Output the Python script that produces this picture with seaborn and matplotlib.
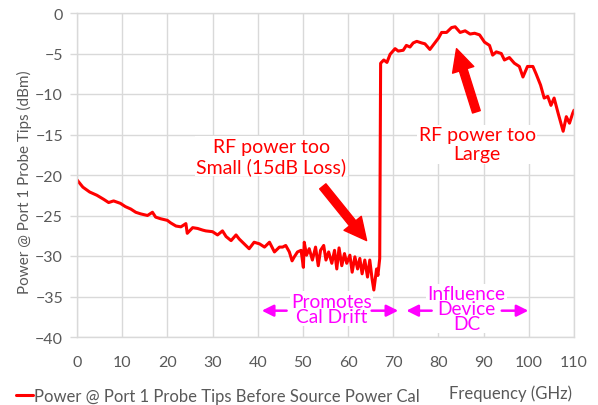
import matplotlib
matplotlib.use("Agg")
import matplotlib.pyplot as plt
import seaborn as sns
import pandas as pd

# --- values ---
freq_ghz = [
    0.0, 1.3, 2.8, 4.4, 5.9, 7.0, 8.1, 9.6, 10.7, 11.9, 13.0, 14.1, 15.6, 16.7,
    17.4, 18.5, 20.0, 20.7, 21.9, 23.0, 24.1, 24.4, 25.6, 26.7, 27.8, 28.5,
    30.0, 31.1, 32.2, 33.0, 34.1, 35.2, 35.9, 37.0, 38.1, 39.2, 40.4, 41.5,
    42.6, 43.7, 44.8, 45.5, 46.2, 47.0, 47.6, 48.1, 48.8, 49.6, 50.1, 50.3,
    50.8, 51.4, 52.1, 52.8, 53.4, 53.9, 54.6, 55.1, 55.7, 56.4, 57.0, 57.5,
    58.0, 58.6, 59.2, 59.7, 60.4, 60.9, 61.5, 62.1, 62.6, 63.1, 63.7, 64.3,
    64.8, 65.3, 65.7, 66.3, 66.6, 67.0, 67.2, 67.9, 68.6, 69.3, 70.4, 71.1,
    72.2, 72.9, 73.7, 74.4, 75.2, 76.3, 77.0, 78.1, 79.2, 80.0, 80.7, 81.8,
    82.9, 83.7, 84.8, 85.9, 87.0, 88.0, 89.1, 90.2, 91.3, 92.0, 92.8, 93.9,
    94.6, 95.7, 96.8, 97.9, 98.7, 99.7, 100.9, 101.6, 102.6, 103.4, 104.2,
    104.9, 105.6, 106.5, 107.6, 108.3, 109.0, 109.7, 110.0,
]
power_dbm = [
    -20.6, -21.5, -22.1, -22.5, -23.0, -23.4, -23.2, -23.5, -23.9, -24.2, -24.6,
    -24.8, -25.0, -24.6, -25.2, -25.4, -25.6, -25.9, -26.3, -26.4, -26.0, -27.2,
    -26.5, -26.6, -26.8, -26.9, -27.0, -27.4, -26.9, -27.6, -28.1, -27.4, -27.9,
    -28.5, -29.1, -28.3, -28.5, -28.9, -28.3, -29.5, -28.9, -28.9, -28.7, -29.5,
    -30.6, -30.1, -29.5, -29.3, -31.4, -28.3, -29.9, -29.1, -30.5, -28.9, -31.2,
    -29.3, -28.7, -30.5, -29.5, -30.9, -29.3, -31.6, -29.0, -31.2, -29.7, -30.9,
    -29.9, -32.0, -30.1, -31.6, -30.3, -32.2, -30.5, -32.6, -30.5, -32.8, -34.2,
    -31.6, -32.4, -30.3, -6.2, -5.8, -6.1, -5.1, -4.4, -4.7, -4.6, -4.0, -4.2,
    -3.7, -3.5, -3.7, -3.8, -4.5, -3.7, -3.1, -2.4, -2.4, -1.8, -1.7, -2.4,
    -2.2, -2.6, -2.5, -2.7, -3.6, -4.0, -5.2, -4.8, -5.0, -5.8, -5.5, -6.2,
    -6.6, -7.9, -6.6, -6.6, -7.5, -8.9, -10.5, -10.3, -11.4, -10.5, -12.4,
    -14.6, -12.8, -13.6, -12.4, -12.0,
]
series_name = "Power @ Port 1 Probe Tips Before Source Power Cal"
x_ticks = [0, 10, 20, 30, 40, 50, 60, 70, 80, 90, 100, 110]
y_ticks = [0, -5, -10, -15, -20, -25, -30, -35, -40]

df = pd.DataFrame({"freq": freq_ghz, "power": power_dbm, "series": series_name})

sns.set_theme(style="white")
plt.rcParams["font.family"] = ["Lato", "DejaVu Sans"]

grey = "#595959"
grid_c = "#d9d9d9"

fig = plt.figure(figsize=(5.98, 4.06), dpi=100)
ax = fig.add_axes([77 / 598, 1 - 338 / 406, 497 / 598, 324 / 406])

sns.lineplot(data=df, x="freq", y="power", hue="series", palette=["#ff0000"],
             linewidth=2.2, ax=ax, sort=False, estimator=None)

ax.set_xlim(0, 110)
ax.set_ylim(-40, 0)
ax.set_xticks(x_ticks)
ax.set_yticks(y_ticks)
ax.grid(True, color=grid_c, linewidth=1.0)
for s in ax.spines.values():
    s.set_color(grid_c)
    s.set_linewidth(1.0)
ax.tick_params(axis="x", length=0, pad=13, labelsize=11.5, labelcolor=grey)
ax.tick_params(axis="y", length=5, width=1.0, color=grid_c, pad=5,
               labelsize=11.5, labelcolor=grey, left=True)

ax.set_ylabel("Power @ Port 1 Probe Tips (dBm)", fontsize=11, color=grey)
ax.yaxis.set_label_coords(-0.105, 0.481)
ax.yaxis.label.set_va("center")
ax.set_xlabel("Frequency (GHz)", fontsize=12, color=grey, loc="right")
ax.xaxis.set_label_coords(0.996, -0.173)
ax.xaxis.label.set_va("center")

# legend at the bottom-left of the figure
ax.legend(loc="center left", bbox_to_anchor=(16 / 598, 1 - 397 / 406),
          bbox_transform=fig.transFigure, frameon=False, handlelength=1.0,
          handletextpad=0.1, borderaxespad=0, borderpad=0, fontsize=12,
          labelcolor=grey)

# red annotations
box = dict(facecolor="white", edgecolor="none", pad=1)
ax.text(43.0, -17.7, "RF power too\nSmall (15dB Loss)", color="#ff0000",
        fontsize=14, ha="center", va="center", linespacing=1.15, bbox=box)
ax.text(88.6, -16.2, "RF power too\nLarge", color="#ff0000",
        fontsize=14, ha="center", va="center", linespacing=1.15, bbox=box)
fat = dict(arrowstyle="simple,head_length=0.8,head_width=0.8,tail_width=0.29",
           color="#ff0000", mutation_scale=20, shrinkA=0, shrinkB=0)
ax.annotate("", xy=(64.1, -28.1), xytext=(54.4, -21.4), arrowprops=fat)
ax.annotate("", xy=(84.0, -4.4), xytext=(88.4, -12.2), arrowprops=fat)

# magenta range notes
mag = "#ff00ff"
ax.text(56.3, -36.5, "Promotes\nCal Drift", color=mag, fontsize=13.8,
        ha="center", va="center", linespacing=0.85, bbox=box)
ax.text(86.2, -36.5, "Influence\nDevice\nDC", color=mag, fontsize=13.8,
        ha="center", va="center", linespacing=0.85, bbox=box)
thin = dict(arrowstyle="-|>,head_length=0.7,head_width=0.35", color=mag,
            lw=1.8, mutation_scale=10, shrinkA=0, shrinkB=0)
for start, end in [(46.4, 40.9), (65.2, 71.1), (78.5, 72.9), (94.0, 99.9)]:
    ax.annotate("", xy=(end, -36.75), xytext=(start, -36.75), arrowprops=thin)

fig.savefig("out.png", dpi=100)
